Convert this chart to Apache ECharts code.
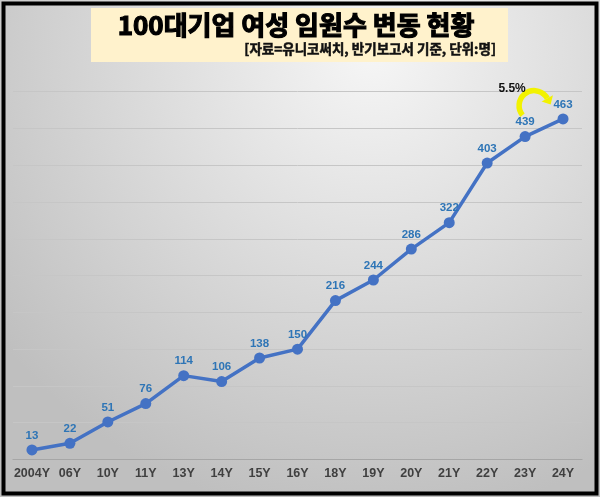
<!DOCTYPE html>
<html>
<head>
<meta charset="utf-8">
<script src="https://cdn.jsdelivr.net/npm/echarts@6/dist/echarts.min.js"></script>
<style>
html,body{margin:0;padding:0;background:#fff;}
#c{width:600px;height:497px;}
</style>
</head>
<body>
<div id="c"></div>
<script>
var categories = ['2004Y','06Y','10Y','11Y','13Y','14Y','15Y','16Y','18Y','19Y','20Y','21Y','22Y','23Y','24Y'];
var execCounts = [13,22,51,76,114,106,138,150,216,244,286,322,403,439,463];
var yTicks = {min:0, max:500, interval:50};
var titleText = '100대기업 여성 임원수 변동 현황';
var subtitleText = '[자료=유니코써치, 반기보고서 기준, 단위:명]';
var growthText = '5.5%';

var chart = echarts.init(document.getElementById('c'));
var option = {
  animation:false,
  backgroundColor:{type:'radial',x:0.62,y:0.1,r:0.95,colorStops:[{offset:0,color:'#f6f6f6'},{offset:1,color:'#bfbfbf'}]},
  grid:{left:13,right:18,top:91.7,bottom:37.5,containLabel:false},
  xAxis:{type:'category',data:categories,boundaryGap:true,
    axisLine:{lineStyle:{color:'#a6a6a6',width:1.2}},
    axisTick:{show:false},
    axisLabel:{color:'#404040',fontWeight:'bold',fontSize:12.5,fontFamily:'"Liberation Sans Narrow", "Liberation Sans", Arial, sans-serif',margin:8,interval:0}},
  yAxis:{type:'value',min:yTicks.min,max:yTicks.max,interval:yTicks.interval,
    axisLabel:{show:false},axisLine:{show:false},axisTick:{show:false},
    splitLine:{lineStyle:{color:'#c6c6c6',width:1}}},
  series:[{type:'line',data:execCounts,
    lineStyle:{color:'#4472C4',width:3.5},
    itemStyle:{color:'#4472C4'},
    symbol:'circle',symbolSize:11,
    label:{show:true,position:'top',distance:3,color:'#2E75B6',fontWeight:'bold',fontSize:11.5,fontFamily:'Liberation Sans, Arial, sans-serif'}}]
};
chart.setOption(option);

var p23 = chart.convertToPixel({seriesIndex:0},[13,execCounts[13]]);
var cx = p23[0]+9, cy = p23[1]-31, r = 15;
var a0 = 2.45, a1 = -0.5 + Math.PI*2;
var ex = cx + r*Math.cos(a1), ey = cy + r*Math.sin(a1);
var nx = Math.cos(a1), ny = Math.sin(a1);
var tx = -Math.sin(a1), ty = Math.cos(a1);

chart.setOption({graphic:[
  {type:'rect',shape:{x:91,y:8,width:417,height:54},style:{fill:'#FFF2CC'},z:10},
  {type:'text',x:296,y:25,style:{text:titleText,textAlign:'center',textVerticalAlign:'middle',font:'bold 26px "Noto Sans CJK KR", sans-serif',fill:'#000',stroke:'#000',lineWidth:1.2},z:11},
  {type:'text',x:496,y:49,style:{text:subtitleText,textAlign:'right',textVerticalAlign:'middle',font:'bold 13.5px "Noto Sans CJK KR", sans-serif',fill:'#111',stroke:'#111',lineWidth:0.5},z:11},
  {type:'arc',shape:{cx:cx,cy:cy,r:r,startAngle:a0,endAngle:a1,clockwise:true},style:{stroke:'#F2F200',lineWidth:5.5,fill:null},z:11},
  {type:'polygon',shape:{points:[[ex+nx*6.5,ey+ny*6.5],[ex-nx*6.5,ey-ny*6.5],[ex+tx*7,ey+ty*7]]},style:{fill:'#F2F200'},z:11},
  {type:'text',x:p23[0]-13,y:p23[1]-48,style:{text:growthText,textAlign:'center',textVerticalAlign:'middle',font:'bold 12px "Liberation Sans", Arial, sans-serif',fill:'#111'},z:11},
  {type:'rect',shape:{x:3.5,y:3.5,width:593,height:490},style:{fill:null,stroke:'#000',lineWidth:4},z:20}
]});
</script>
</body>
</html>
